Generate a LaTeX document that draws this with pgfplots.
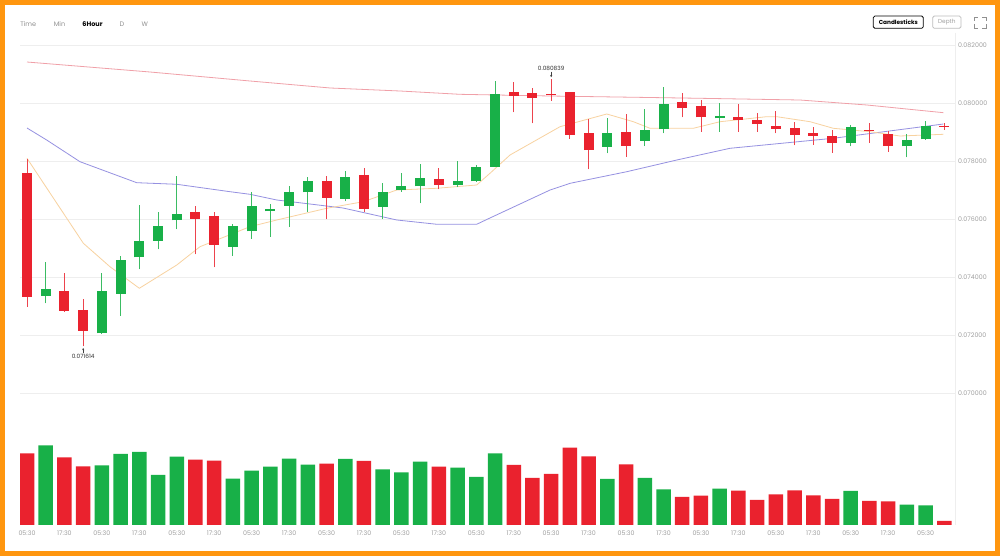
\documentclass[border=0pt]{standalone}
\usepackage{pgfplots}
\pgfplotsset{compat=1.18}
\usepackage{pgfplotstable}
\usepackage{fontspec}
\setmainfont{Poppins}
\usetikzlibrary{arrows.meta}
\definecolor{cgreen}{RGB}{24,176,72}
\definecolor{cred}{RGB}{234,34,46}
\definecolor{maorange}{RGB}{248,210,160}
\definecolor{mablue}{RGB}{150,145,225}
\definecolor{mared}{RGB}{240,160,168}
\definecolor{framec}{RGB}{255,150,15}
\definecolor{lbl}{RGB}{160,160,160}
\definecolor{gridc}{RGB}{238,238,238}

\pgfplotstableread{
i open high low close
1 0.073352 0.074513 0.073101 0.073593
4 0.072067 0.074155 0.072050 0.073525
5 0.073431 0.074741 0.072674 0.074593
6 0.074686 0.076477 0.074272 0.075258
7 0.075247 0.076246 0.074961 0.075774
8 0.075960 0.077487 0.075650 0.076167
11 0.075051 0.075823 0.074741 0.075774
12 0.075581 0.076925 0.075316 0.076463
13 0.076270 0.076522 0.075395 0.076350
14 0.076463 0.077142 0.075740 0.076935
15 0.076925 0.077442 0.076257 0.077325
17 0.076705 0.077669 0.076615 0.077452
19 0.076429 0.077235 0.075995 0.076946
20 0.076994 0.077580 0.076946 0.077132
21 0.077132 0.077900 0.076546 0.077428
23 0.077177 0.078014 0.077097 0.077314
24 0.077304 0.077866 0.077290 0.077786
25 0.077807 0.080760 0.077790 0.080312
31 0.078496 0.079495 0.078269 0.078958
33 0.078693 0.079785 0.078520 0.079061
34 0.079096 0.080543 0.078958 0.079967
37 0.079475 0.080012 0.079013 0.079554
44 0.078634 0.079233 0.078510 0.079175
47 0.078510 0.078923 0.078131 0.078727
48 0.078751 0.079371 0.078727 0.079199
}\greenc

\pgfplotstableread{
i open high low close
0 0.077580 0.078072 0.072984 0.073328
2 0.073525 0.074134 0.072811 0.072846
3 0.072880 0.073259 0.071614 0.072157
9 0.076257 0.076453 0.074789 0.076005
10 0.076098 0.076257 0.074341 0.075120
16 0.077314 0.077497 0.075995 0.076729
18 0.077511 0.077752 0.076246 0.076360
22 0.077383 0.077752 0.077028 0.077177
26 0.080391 0.080725 0.079681 0.080253
27 0.080336 0.080508 0.079302 0.080174
28 0.080312 0.080839 0.080081 0.080267
29 0.080370 0.080381 0.078772 0.078910
30 0.078978 0.079450 0.077718 0.078382
32 0.079013 0.079623 0.078152 0.078531
35 0.080026 0.080336 0.079509 0.079840
36 0.079909 0.080105 0.079003 0.079509
38 0.079509 0.079967 0.079013 0.079416
39 0.079416 0.079668 0.079013 0.079278
40 0.079220 0.079736 0.078958 0.079116
41 0.079140 0.079337 0.078544 0.078910
42 0.078968 0.079175 0.078565 0.078875
43 0.078854 0.079082 0.078289 0.078634
45 0.079082 0.079323 0.078634 0.079037
46 0.078923 0.079047 0.078324 0.078520
49 0.079199 0.079323 0.079082 0.079175
}\redc

\pgfplotstableread{
i v
1 79.7
4 59.7
5 71
6 73
7 50
8 68.3
11 46.3
12 54.3
13 58.3
14 66.3
15 60.3
17 66
19 55.7
20 52.7
21 63.3
23 57.3
24 48
25 71.7
31 46
33 47
34 35.7
37 36.3
44 34
47 20.3
48 19.7
}\greenv

\pgfplotstableread{
i v
0 71.7
2 67.7
3 58.7
9 65.3
10 64.3
16 61.3
18 64
22 58.3
26 60
27 47
28 51
29 77.3
30 68.7
32 60.7
35 28
36 29.3
38 34.3
39 25
40 30.7
41 34.7
42 29.7
43 26
45 24
46 23.7
49 4
}\redv

\begin{document}
\begin{tikzpicture}
\path[use as bounding box] (0,0) rectangle (1000pt,556pt);
\fill[white] (0,0) rectangle (1000pt,556pt);

% header
\begin{scope}[every node/.style={font=\fontsize{6.5}{7}\selectfont, inner sep=0pt}]
\node[text=lbl!90!black] at (28.3pt,532pt) {Time};
\node[text=lbl!90!black] at (59.5pt,532pt) {Min};
\node[text=black, font=\bfseries\fontsize{6.5}{7}\selectfont] at (92.5pt,532pt) {6Hour};
\node[text=lbl!90!black] at (122pt,532pt) {D};
\node[text=lbl!90!black] at (144.7pt,532pt) {W};
\node[draw=black, line width=0.8pt, rounded corners=1.5pt, minimum width=50pt, minimum height=12.3pt, font=\bfseries\fontsize{5.8}{7}\selectfont] at (898.3pt,533.8pt) {Candlesticks};
\node[draw=lbl!70, line width=0.8pt, rounded corners=1.5pt, minimum width=28.3pt, minimum height=12.3pt, text=lbl, font=\fontsize{5.8}{7}\selectfont] at (946.8pt,533.8pt) {Depth};
\end{scope}
\begin{scope}[draw=lbl!90!black, line width=0.7pt]
\draw (974pt,535pt) -- (974pt,539pt) -- (978pt,539pt);
\draw (982pt,539pt) -- (986pt,539pt) -- (986pt,535pt);
\draw (974pt,532pt) -- (974pt,528pt) -- (978pt,528pt);
\draw (982pt,528pt) -- (986pt,528pt) -- (986pt,532pt);
\end{scope}

\draw[gridc, line width=0.6pt] (955pt,523pt) -- (955pt,31pt);

% price axis
\begin{axis}[
  at={(20pt,148.2pt)}, anchor=south west,
  scale only axis, width=935pt, height=377.3pt,
  xmin=-0.374, xmax=49.57, ymin=0.0695, ymax=0.0825,
  clip=false,
  axis line style={draw=none},
  xtick=\empty,
  ytick={0.070,0.072,0.074,0.076,0.078,0.080,0.082},
  yticklabel pos=right,
  ymajorgrids, grid style={gridc, line width=0.6pt},
  major tick length=0pt,
  scaled y ticks=false,
  /pgf/number format/assume math mode=true,
  yticklabel style={font=\fontsize{6.3}{7}\selectfont, text=lbl, anchor=west, inner sep=0pt, xshift=3pt},
  yticklabel={\pgfmathprintnumber[fixed,precision=6,zerofill]{\tick}},
]
\addplot[mared, line width=0.8pt, mark=none] coordinates {(0,0.081414) (6.57,0.081070) (11.91,0.080760) (16.19,0.080519) (19.93,0.080415) (23.13,0.080301) (27.94,0.080243) (33.28,0.080191) (35.95,0.080164) (41.29,0.080105) (44.86,0.079933) (48.95,0.079668)};
\addplot[mablue, line width=0.8pt, mark=none] coordinates {(0,0.079140) (1.05,0.078727) (2.83,0.077979) (5.86,0.077256) (8.0,0.077201) (10.84,0.076946) (11.91,0.076856) (13.34,0.076660) (16.88,0.076384) (19.75,0.075971) (21.89,0.075823) (24.02,0.075823) (24.73,0.076040) (27.94,0.077004) (29.01,0.077235) (32.04,0.077635) (34.71,0.078038) (37.55,0.078441) (43.07,0.078786) (48.95,0.079278)};
\addplot[maorange, line width=0.8pt, mark=none] coordinates {(0,0.078097) (3.01,0.075168) (4.43,0.074362) (6.0,0.073618) (8.0,0.074420) (9.24,0.075051) (11.91,0.075740) (13.34,0.075971) (16.01,0.076374) (17.96,0.076601) (19.75,0.077004) (21.89,0.077063) (24.02,0.077177) (24.73,0.077580) (25.8,0.078210) (28.47,0.079185) (30.97,0.079623) (32.39,0.079357) (33.28,0.079130) (35.59,0.079130) (37.02,0.079357) (39.51,0.079530) (40.05,0.079530) (41.83,0.079357) (43.07,0.079130) (45.03,0.079013) (46.63,0.078865) (48.95,0.078923)};
% wicks
\addplot[draw=none, mark=none, error bars/.cd, y dir=plus, y explicit, error mark=none, error bar style={draw=cgreen!85, line width=0.9pt}] table[x=i, y=low, y error plus expr=\thisrow{high}-\thisrow{low}] {\greenc};
\addplot[draw=none, mark=none, error bars/.cd, y dir=plus, y explicit, error mark=none, error bar style={draw=cred!85, line width=0.9pt}] table[x=i, y=low, y error plus expr=\thisrow{high}-\thisrow{low}] {\redc};
% bodies
\addplot[draw=none, mark=none, error bars/.cd, y dir=plus, y explicit, error mark=none, error bar style={draw=cgreen, line width=10pt}] table[x=i, y=open, y error plus expr=\thisrow{close}-\thisrow{open}] {\greenc};
\addplot[draw=none, mark=none, error bars/.cd, y dir=plus, y explicit, error mark=none, error bar style={draw=cred, line width=10pt}] table[x=i, y=close, y error plus expr=\thisrow{open}-\thisrow{close}] {\redc};
% annotations
\draw[black!75, line width=0.5pt, -{Stealth[length=2.2pt,width=2.2pt]}] ([yshift=-7pt]axis cs:3,0.071614) -- ([yshift=-1.5pt]axis cs:3,0.071614);
\node[anchor=north, inner sep=0pt, font=\fontsize{5.8}{7}\selectfont, text=black!80] at ([yshift=-8pt]axis cs:3,0.071614) {0.071614};
\draw[black!75, line width=0.5pt, -{Stealth[length=2.2pt,width=2.2pt]}] ([yshift=7pt]axis cs:28,0.080839) -- ([yshift=1.5pt]axis cs:28,0.080839);
\node[anchor=south, inner sep=0pt, font=\fontsize{5.8}{7}\selectfont, text=black!80] at ([yshift=8pt]axis cs:28,0.080839) {0.080839};
\end{axis}

% volume axis
\begin{axis}[
  at={(20pt,31pt)}, anchor=south west,
  scale only axis, width=935pt, height=88pt,
  xmin=-0.374, xmax=49.57, ymin=0, ymax=88,
  axis line style={draw=none},
  ytick=\empty,
  xtick={0,2,...,48},
  xticklabels={05:30,17:30,05:30,17:30,05:30,17:30,05:30,17:30,05:30,17:30,05:30,17:30,05:30,17:30,05:30,17:30,05:30,17:30,05:30,17:30,05:30,17:30,05:30,17:30,05:30},
  major tick length=0pt,
  xticklabel style={font=\fontsize{6.3}{7}\selectfont, text=lbl, inner sep=0pt, yshift=-6pt},
]
\addplot[ybar, bar width=14.5pt, bar shift=0pt, fill=cgreen, draw=none] table[x=i, y=v] {\greenv};
\addplot[ybar, bar width=14.5pt, bar shift=0pt, fill=cred, draw=none] table[x=i, y=v] {\redv};
\end{axis}

\draw[framec, line width=5pt] (2.5pt,2.5pt) rectangle (997.5pt,553.5pt);
\end{tikzpicture}
\end{document}
